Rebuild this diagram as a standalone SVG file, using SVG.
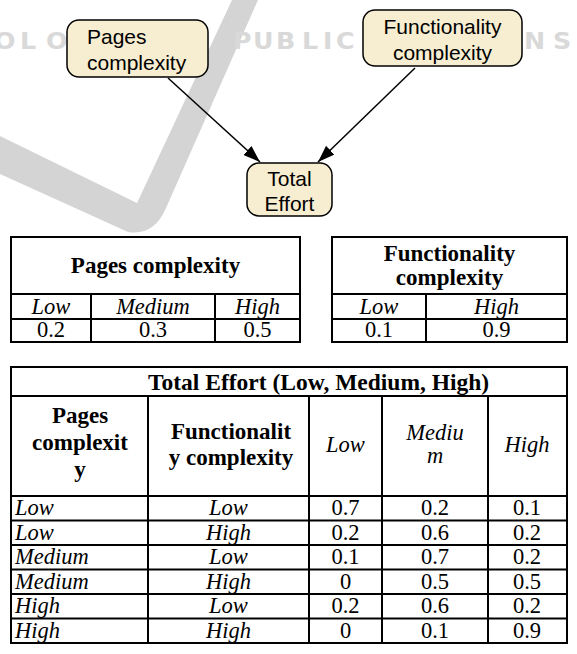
<svg xmlns="http://www.w3.org/2000/svg" width="577" height="654" viewBox="0 0 577 654">
<style>
.node rect{fill:#F7EDD1;stroke:#000;stroke-width:1.5}
.nt{font-family:"Liberation Sans",Arial,sans-serif;font-size:21px;fill:#000}
.grid{stroke:#000;stroke-width:2;fill:none}
.b{font-family:"Liberation Serif","Times New Roman",serif;font-weight:bold;font-size:23px;fill:#000}
.i{font-family:"Liberation Serif","Times New Roman",serif;font-style:italic;font-size:22.5px;fill:#000}
.n{font-family:"Liberation Serif","Times New Roman",serif;font-size:22.5px;fill:#000}
.c{text-anchor:middle}
.wm{fill:#D4D4D4}
.wmt{font-family:"DejaVu Sans",sans-serif;font-weight:bold;font-size:23px;fill:#D9D9D9}
.conn{stroke:#000;stroke-width:1.5;fill:none}
</style>
<defs>
<marker id="arr" markerUnits="userSpaceOnUse" markerWidth="17" markerHeight="12" refX="17" refY="6" orient="auto"><path d="M0,0 L17,6 L0,12 z" fill="#000"/></marker>
</defs>
<rect width="577" height="654" fill="#fff"/>
<g id="watermark">
<path class="wm" d="M232,0 L258,0 L166,208 Q154,236 128,232 L0,174 L0,136 L137,203 Z"/>
<g transform="translate(0,49) scale(1.1,1)">
<text class="wmt" x="-5.5 18.2 41.8 65.5 89.1" y="0">OLOGY</text>
<text class="wmt" x="211.8 230 250.9 274.5 293.6 305.5 334.5 361.8 386.4 405.5 476.4 502.7" y="0">PUBLICATIONS</text>
</g>
</g>
<g id="connectors">
<line class="conn" x1="168" y1="78" x2="260" y2="162" marker-end="url(#arr)"/>
<line class="conn" x1="415" y1="68" x2="318" y2="162" marker-end="url(#arr)"/>
</g>
<g id="node-pages" class="node">
<rect x="67" y="20" width="141" height="57" rx="12"/>
<text class="nt" x="87" y="44">Pages</text>
<text class="nt" x="87" y="70">complexity</text>
</g>
<g id="node-functionality" class="node">
<rect x="363" y="10" width="159" height="56" rx="12"/>
<text class="nt c" x="442.5" y="34">Functionality</text>
<text class="nt c" x="442.5" y="60">complexity</text>
</g>
<g id="node-total" class="node">
<rect x="247" y="163" width="85" height="53" rx="12"/>
<text class="nt c" x="289.5" y="186">Total</text>
<text class="nt c" x="289.5" y="211">Effort</text>
</g>
<g id="table-pages">
<rect class="grid" x="11" y="237" width="289" height="105"/>
<line class="grid" x1="11" y1="294" x2="300" y2="294"/>
<line class="grid" x1="11" y1="319" x2="300" y2="319"/>
<line class="grid" x1="91" y1="294" x2="91" y2="342"/>
<line class="grid" x1="215" y1="294" x2="215" y2="342"/>
<text class="b c" x="155.5" y="273">Pages complexity</text>
<text class="i c" x="51" y="314">Low</text>
<text class="i c" x="153" y="314">Medium</text>
<text class="i c" x="257.5" y="314">High</text>
<text class="n c" x="51" y="337">0.2</text>
<text class="n c" x="153" y="337">0.3</text>
<text class="n c" x="257.5" y="337">0.5</text>
</g>
<g id="table-functionality">
<rect class="grid" x="332" y="237" width="235" height="105"/>
<line class="grid" x1="332" y1="294" x2="567" y2="294"/>
<line class="grid" x1="332" y1="319" x2="567" y2="319"/>
<line class="grid" x1="426" y1="294" x2="426" y2="342"/>
<text class="b c" x="449.5" y="261">Functionality</text>
<text class="b c" x="449.5" y="285">complexity</text>
<text class="i c" x="379" y="314">Low</text>
<text class="i c" x="496.5" y="314">High</text>
<text class="n c" x="379" y="337">0.1</text>
<text class="n c" x="496.5" y="337">0.9</text>
</g>
<g id="table-total">
<rect class="grid" x="11" y="367" width="556" height="276"/>
<line class="grid" x1="11" y1="396" x2="567" y2="396"/>
<line class="grid" x1="11" y1="496" x2="567" y2="496"/>
<line class="grid" x1="11" y1="520.5" x2="567" y2="520.5"/>
<line class="grid" x1="11" y1="545" x2="567" y2="545"/>
<line class="grid" x1="11" y1="569.5" x2="567" y2="569.5"/>
<line class="grid" x1="11" y1="594" x2="567" y2="594"/>
<line class="grid" x1="11" y1="618.5" x2="567" y2="618.5"/>
<line class="grid" x1="148" y1="396" x2="148" y2="643"/>
<line class="grid" x1="309" y1="396" x2="309" y2="643"/>
<line class="grid" x1="382" y1="396" x2="382" y2="643"/>
<line class="grid" x1="488" y1="396" x2="488" y2="643"/>
<text class="b" x="148" y="390" style="font-size:23.5px">Total Effort (Low, Medium, High)</text>
<text class="b c" x="80" y="423">Pages</text>
<text class="b c" x="80" y="450">complexit</text>
<text class="b c" x="80" y="477">y</text>
<text class="b c" x="231" y="439">Functionalit</text>
<text class="b c" x="231" y="465">y complexity</text>
<text class="i c" x="345.5" y="452">Low</text>
<text class="i c" x="435" y="440">Mediu</text>
<text class="i c" x="435" y="463">m</text>
<text class="i c" x="527" y="452">High</text>
<text class="i" x="15" y="515">Low</text>
<text class="i c" x="228.5" y="515">Low</text>
<text class="n c" x="345.5" y="515">0.7</text>
<text class="n c" x="435" y="515">0.2</text>
<text class="n c" x="527" y="515">0.1</text>
<text class="i" x="15" y="539.5">Low</text>
<text class="i c" x="228.5" y="539.5">High</text>
<text class="n c" x="345.5" y="539.5">0.2</text>
<text class="n c" x="435" y="539.5">0.6</text>
<text class="n c" x="527" y="539.5">0.2</text>
<text class="i" x="15" y="564">Medium</text>
<text class="i c" x="228.5" y="564">Low</text>
<text class="n c" x="345.5" y="564">0.1</text>
<text class="n c" x="435" y="564">0.7</text>
<text class="n c" x="527" y="564">0.2</text>
<text class="i" x="15" y="588.5">Medium</text>
<text class="i c" x="228.5" y="588.5">High</text>
<text class="n c" x="345.5" y="588.5">0</text>
<text class="n c" x="435" y="588.5">0.5</text>
<text class="n c" x="527" y="588.5">0.5</text>
<text class="i" x="15" y="613">High</text>
<text class="i c" x="228.5" y="613">Low</text>
<text class="n c" x="345.5" y="613">0.2</text>
<text class="n c" x="435" y="613">0.6</text>
<text class="n c" x="527" y="613">0.2</text>
<text class="i" x="15" y="637.5">High</text>
<text class="i c" x="228.5" y="637.5">High</text>
<text class="n c" x="345.5" y="637.5">0</text>
<text class="n c" x="435" y="637.5">0.1</text>
<text class="n c" x="527" y="637.5">0.9</text>
</g>
</svg>
